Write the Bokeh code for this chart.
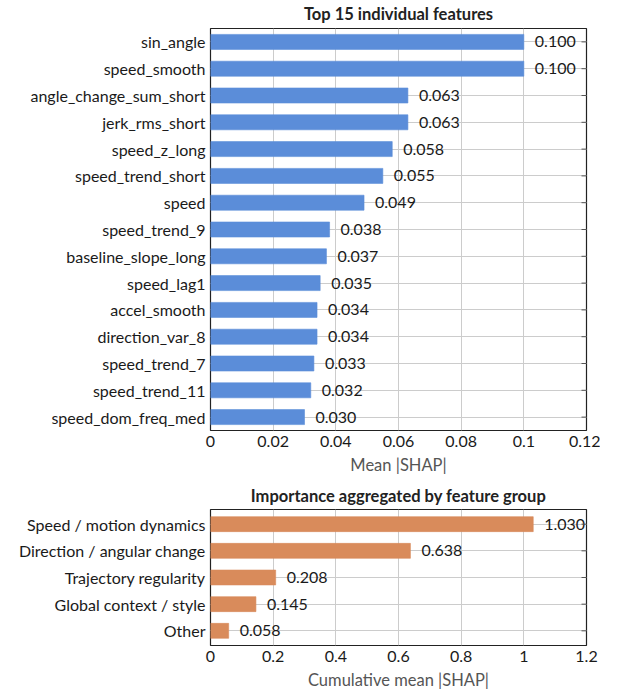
from bokeh.plotting import figure
from bokeh.layouts import column
from bokeh.models import ColumnDataSource, FixedTicker, Range1d
from bokeh.embed import file_html
from bokeh.resources import INLINE
from bokeh.core.properties import value

features = ["sin_angle", "speed_smooth", "angle_change_sum_short", "jerk_rms_short",
            "speed_z_long", "speed_trend_short", "speed", "speed_trend_9",
            "baseline_slope_long", "speed_lag1", "accel_smooth", "direction_var_8",
            "speed_trend_7", "speed_trend_11", "speed_dom_freq_med"]
feature_vals = [0.100, 0.100, 0.063, 0.063, 0.058, 0.055, 0.049, 0.038,
                0.037, 0.035, 0.034, 0.034, 0.033, 0.032, 0.030]
top_ticks = [0, 0.02, 0.04, 0.06, 0.08, 0.1, 0.12]
top_tick_labels = ["0", "0.02", "0.04", "0.06", "0.08", "0.1", "0.12"]

groups = ["Speed / motion dynamics", "Direction / angular change",
          "Trajectory regularity", "Global context / style", "Other"]
group_vals = [1.030, 0.638, 0.208, 0.145, 0.058]
bot_ticks = [0, 0.2, 0.4, 0.6, 0.8, 1.0, 1.2]
bot_tick_labels = ["0", "0.2", "0.4", "0.6", "0.8", "1", "1.2"]

FONT = "Lato"
BLUE = "#5b8dd9"
ORANGE = "#d98b5b"


def make_plot(names, vals, ticks, tick_labels, xmax, title, xlabel, color,
              frame_h, top_border, bottom_border, pad, title_standoff):
    n = len(names)
    idx = list(range(n))
    src = ColumnDataSource(dict(y=idx, v=vals, lab=[f"{v:.3f}" for v in vals],
                                edge=[xmax] * n))
    p = figure(output_backend="svg", toolbar_location=None,
               frame_width=376, frame_height=frame_h,
               x_range=Range1d(0, xmax), y_range=Range1d(n - 1 + pad, -pad),
               min_border_left=210, min_border_right=14,
               min_border_top=top_border, min_border_bottom=bottom_border)
    p.title.text = title
    p.title.align = "center"
    p.title.text_font = FONT
    p.title.text_font_size = "16.5px"
    p.title.text_font_style = "bold"
    p.title.text_color = "#222222"
    p.title.standoff = title_standoff

    p.hbar(y="y", right="v", left=0, height=0.56, source=src,
           fill_color=color, line_color=color, line_alpha=0.6)
    p.text(x="v", y="y", text="lab", source=src, x_offset=11,
           text_baseline="middle", text_align="left",
           text_font=value(FONT), text_font_size="16px", text_color="#1a1a1a")
    # small inside tick marks on the right frame edge
    p.scatter(x="edge", y="y", source=src, marker="dash", size=10,
              line_color="#555555", line_width=1)

    p.outline_line_color = "#222222"
    p.outline_line_width = 1.2
    p.background_fill_color = "white"
    p.border_fill_color = "white"

    p.xaxis.ticker = FixedTicker(ticks=ticks)
    p.xaxis.major_label_overrides = {t: l for t, l in zip(ticks, tick_labels)}
    p.xaxis.axis_label = xlabel
    p.xaxis.axis_label_text_font = FONT
    p.xaxis.axis_label_text_font_size = "16.5px"
    p.xaxis.axis_label_text_font_style = "normal"
    p.xaxis.axis_label_text_color = "#555555"
    p.xaxis.axis_label_standoff = 5
    p.xaxis.major_label_text_font = FONT
    p.xaxis.major_label_text_font_size = "16px"
    p.xaxis.major_label_text_color = "#1a1a1a"
    p.xaxis.major_label_standoff = 5
    p.xaxis.major_tick_out = 0
    p.xaxis.major_tick_in = 0
    p.xaxis.minor_tick_out = 0
    p.xaxis.minor_tick_in = 0
    p.xaxis.axis_line_color = None

    p.yaxis.ticker = FixedTicker(ticks=idx)
    p.yaxis.major_label_overrides = {i: nm for i, nm in zip(idx, names)}
    p.yaxis.major_label_text_font = FONT
    p.yaxis.major_label_text_font_size = "16px"
    p.yaxis.major_label_text_color = "#1a1a1a"
    p.yaxis.major_label_standoff = 5
    p.yaxis.major_tick_out = 0
    p.yaxis.major_tick_in = 0
    p.yaxis.minor_tick_out = 0
    p.yaxis.minor_tick_in = 0
    p.yaxis.axis_line_color = None

    p.xgrid.ticker = FixedTicker(ticks=ticks)
    p.xgrid.grid_line_color = "#cccccc"
    p.ygrid.ticker = FixedTicker(ticks=idx)
    p.ygrid.grid_line_color = "#cccccc"
    return p


p1 = make_plot(features, feature_vals, top_ticks, top_tick_labels, 0.12,
               "Top 15 individual features", "Mean |SHAP|", BLUE,
               402, 27, 46, 0.5, 9)
p1.margin = (-3, 0, 0, 0)
p2 = make_plot(groups, group_vals, bot_ticks, bot_tick_labels, 1.2,
               "Importance aggregated by feature group", "Cumulative mean |SHAP|", ORANGE,
               136, 32, 44, 0.55, 7)

layout = column(p1, p2, spacing=0)
open("out.html", "w").write(file_html(layout, INLINE))
